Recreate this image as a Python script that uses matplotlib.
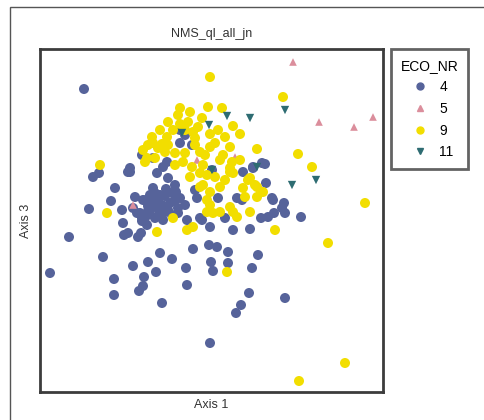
import matplotlib
matplotlib.use("Agg")
import matplotlib.pyplot as plt
from matplotlib.lines import Line2D
from matplotlib.patches import Rectangle

plt.rcParams['font.family'] = ['Liberation Sans', 'DejaVu Sans']

# NMS scores (Axis 1, Axis 3) per ECO_NR group
eco4_x = [44, 10, 29, 49, 53, 59, 63, 75, 71, 82, 83, 84, 90, 74, 74, 93, 98, 101, 102, 104,
          99, 103, 108, 116, 120, 122, 132, 146, 147, 153, 170, 169, 177, 171, 173, 188, 188,
          196, 201, 209, 212, 218, 245, 261, 210, 225, 226, 233, 244, 234, 245, 221, 228, 242,
          110, 115, 120, 125, 118, 112, 108, 115, 122, 130, 135, 140, 128, 120, 110, 105, 115,
          123, 132, 138, 145, 107, 100, 103,
          88, 117, 128, 135, 95, 93, 97, 138, 147, 155, 157, 102, 88, 160,
          172, 203, 213, 178, 197, 202, 232, 162, 170, 185, 193,
          140, 145, 140, 152, 102, 113, 127, 90, 123, 222, 213,
          106, 113, 126, 132, 118, 125, 108, 136]
eco4_y = [303, 119, 155, 183, 215, 219, 135, 204, 191, 182, 169, 157, 220, 113, 97, 126, 155, 159,
          171, 115, 101, 106, 130, 120, 139, 89, 133, 124, 107, 143, 49, 147, 145, 130, 121, 140,
          129, 79, 87, 99, 124, 137, 94, 175, 163, 228, 209, 192, 189, 179, 179, 174, 175, 184,
          197, 199, 197, 196, 192, 190, 186, 185, 187, 189, 192, 194, 182, 180, 178, 174, 174,
          172, 177, 184, 187, 167, 179, 192,
          220, 219, 214, 207, 195, 184, 179, 179, 172, 202, 194, 174, 159, 174,
          222, 220, 224, 194, 194, 192, 194, 172, 165, 174, 162,
          262, 257, 249, 247, 237, 234, 230, 224, 225, 229, 225,
          192, 204, 203, 199, 176, 180, 181, 200]

eco5_x = [253, 279, 314, 333, 157, 195, 93]
eco5_y = [330, 270, 265, 275, 232, 235, 187]

eco9_x = [170, 243, 140, 138, 168, 182, 193, 60, 67, 258, 272, 325, 288, 305, 259, 187, 217, 117,
          133, 147, 153, 208, 217, 223, 107, 103, 113, 127, 133, 160, 167, 180, 193, 200, 173,
          197, 190,
          167, 190, 163, 170, 203, 210, 217, 170, 180, 193, 167, 215,
          162, 153, 155, 108, 118, 128, 135, 145, 115, 105, 143, 135, 152,
          175, 190, 165, 183, 192, 163, 190,
          120, 128, 148, 150, 145, 158, 170, 178, 185, 200, 112, 125, 160, 170, 180,
          205, 175, 150, 160, 210, 235, 140, 122, 155, 185]
eco9_y = [315, 295, 284, 277, 285, 284, 266, 227, 179, 238, 225, 189, 149, 29, 11, 120, 243, 160,
          174, 162, 165, 212, 205, 200, 234, 242, 249, 255, 262, 219, 192, 205, 219, 232, 179,
          175, 185,
          217, 220, 207, 200, 204, 214, 195, 187, 180, 180, 180, 207,
          274, 260, 247, 247, 244, 247, 239, 239, 234, 230, 230, 227, 225,
          249, 245, 237, 237, 230, 227, 224,
          262, 270, 270, 280, 262, 265, 258, 262, 255, 258, 255, 240, 240, 245, 232,
          195, 215, 215, 205, 180, 162, 268, 248, 254, 212]

eco11_x = [169, 187, 210, 245, 172, 252, 276, 142, 217]
eco11_y = [267, 276, 274, 282, 222, 207, 212, 259, 225]

groups = ['4', '5', '9', '11']
colors = ['#56639A', '#DB8E9C', '#F2DE00', '#2E6C72']
markers = ['o', '^', 'o', 'v']
sizes = [52, 30, 52, 36]

fig = plt.figure(figsize=(4.84, 4.2), dpi=100)
ax = fig.add_axes([40 / 484, 28 / 420, 343 / 484, 343 / 420])

data = [(eco4_x, eco4_y), (eco5_x, eco5_y), (eco9_x, eco9_y), (eco11_x, eco11_y)]
for (xs, ys), c, m, s in zip(data, colors, markers, sizes):
    ax.scatter(xs, ys, s=s, c=c, marker=m, edgecolors='none', clip_on=False)

ax.set_xlim(0, 343)
ax.set_ylim(0, 343)
ax.set_xticks([])
ax.set_yticks([])
for sp in ax.spines.values():
    sp.set_linewidth(2)
    sp.set_color('#3c3c3c')

ax.set_title('NMS_ql_all_jn', fontsize=9, color='#333333', pad=9)
ax.set_xlabel('Axis 1', fontsize=9, color='#333333', labelpad=5)
ax.set_ylabel('Axis 3', fontsize=9, color='#333333', labelpad=6)

handles = [Line2D([], [], linestyle='none', marker=m, color=c, markersize=5)
           for c, m in zip(colors, markers)]
leg = fig.legend(handles, groups, title='ECO_NR', loc='upper left',
                 bbox_to_anchor=(391 / 484, 371 / 420), fontsize=10, title_fontsize=10,
                 frameon=True, fancybox=False, handlelength=2.0, handletextpad=0.4,
                 labelspacing=0.55, borderpad=0.7, borderaxespad=0)
leg.get_frame().set_edgecolor('#3c3c3c')
leg.get_frame().set_linewidth(2)

# outer frame of the original figure
fig.patches.append(Rectangle((10 / 484, -0.1), 1.2, (413 / 420) + 0.1, transform=fig.transFigure,
                             fill=False, edgecolor='#555555', linewidth=1))

fig.savefig('out.png', dpi=100)
